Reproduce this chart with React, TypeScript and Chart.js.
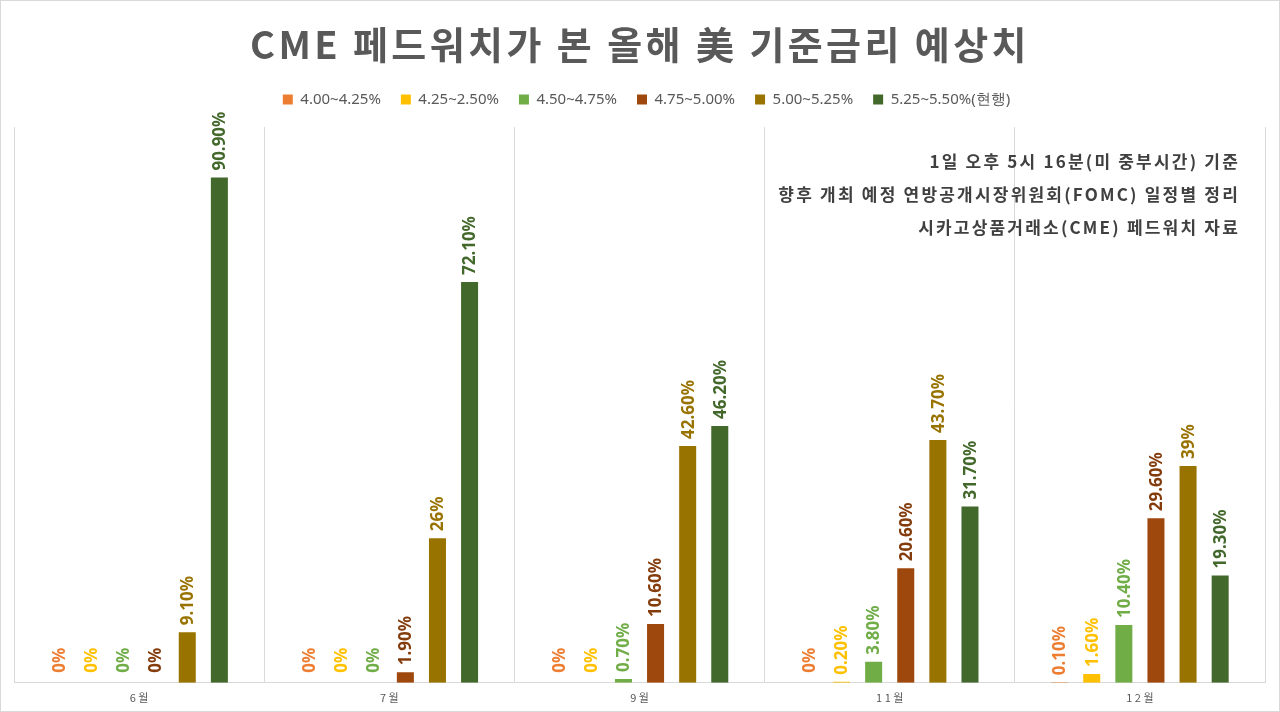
import React, { useEffect, useRef } from "react";
import { Chart, registerables } from "chart.js";

Chart.register(...registerables);

const categories = ["6 월", "7 월", "9 월", "1 1 월", "1 2 월"];
const seriesNames = ["4.00~4.25%", "4.25~2.50%", "4.50~4.75%", "4.75~5.00%", "5.00~5.25%", "5.25~5.50%(현행)"];
const r400_425 = [0, 0, 0, 0, 0.1];
const r425_450 = [0, 0, 0, 0.2, 1.6];
const r450_475 = [0, 0, 0.7, 3.8, 10.4];
const r475_500 = [0, 1.9, 10.6, 20.6, 29.6];
const r500_525 = [9.1, 26, 42.6, 43.7, 39];
const r525_550 = [90.9, 72.1, 46.2, 31.7, 19.3];
const seriesValues = [r400_425, r425_450, r450_475, r475_500, r500_525, r525_550];
const barColors = ["#ED7D31", "#FFC000", "#70AD47", "#9E480E", "#997300", "#43682B"];
const labelColors = ["#ED7D31", "#FFC000", "#70AD47", "#843C0C", "#997300", "#43682B"];
const titleText = "CME 페드워치가 본 올해 美 기준금리 예상치";
const noteLines = [
  "1일 오후 5시 16분(미 중부시간) 기준",
  "향후 개최 예정 연방공개시장위원회(FOMC) 일정별 정리",
  "시카고상품거래소(CME) 페드워치 자료",
];

const fmt = (v: number) => (Number.isInteger(v) ? `${v}%` : `${v.toFixed(2)}%`);

const KR = '"Noto Sans CJK KR", "Noto Sans", sans-serif';

const decoPlugin = {
  id: "deco",
  afterLayout(chart: any) {
    if (chart.legend) {
      chart.legend.left += 7;
      chart.legend.right += 7;
    }
  },
  beforeDraw(chart: any) {
    const ctx = chart.ctx;
    ctx.save();
    ctx.fillStyle = "#ffffff";
    ctx.fillRect(0, 0, chart.width, chart.height);
    ctx.strokeStyle = "#D9D9D9";
    ctx.lineWidth = 1;
    ctx.strokeRect(0.5, 0.5, chart.width - 1, chart.height - 1);
    ctx.restore();
  },
  afterDatasetsDraw(chart: any) {
    const ctx = chart.ctx;
    chart.data.datasets.forEach((ds: any, i: number) => {
      const meta = chart.getDatasetMeta(i);
      meta.data.forEach((bar: any, j: number) => {
        const v = ds.data[j];
        ctx.save();
        ctx.translate(bar.x, bar.y - (v === 0 ? 10 : 7));
        ctx.rotate(-Math.PI / 2);
        ctx.textAlign = "left";
        ctx.textBaseline = "middle";
        ctx.font = 'bold 17px "Noto Sans", sans-serif';
        ctx.fillStyle = labelColors[i];
        ctx.fillText(fmt(v), 0, 1);
        ctx.restore();
      });
    });
  },
  afterDraw(chart: any) {
    const ctx = chart.ctx;
    ctx.save();
    ctx.font = `bold 38px ${KR}`;
    (ctx as any).letterSpacing = "3.4px";
    ctx.fillStyle = "#595959";
    ctx.textAlign = "center";
    ctx.textBaseline = "middle";
    ctx.fillText(titleText, 640, 45);
    ctx.restore();

    ctx.save();
    ctx.font = `bold 17px ${KR}`;
    (ctx as any).letterSpacing = "2.2px";
    ctx.fillStyle = "#404040";
    ctx.textAlign = "right";
    ctx.textBaseline = "middle";
    const ys = [162, 195, 228];
    noteLines.forEach((t, k) => ctx.fillText(t, 1240, ys[k]));
    ctx.restore();
  },
};

export default function App() {
  const ref = useRef<HTMLCanvasElement | null>(null);
  useEffect(() => {
    document.body.style.margin = "0";
    const chart = new Chart(ref.current as HTMLCanvasElement, {
      type: "bar",
      data: {
        labels: categories,
        datasets: seriesNames.map((name, i) => ({
          label: name,
          data: seriesValues[i],
          backgroundColor: barColors[i],
          borderWidth: 0,
          categoryPercentage: 0.77,
          barPercentage: 0.53,
        })),
      },
      options: {
        responsive: true,
        maintainAspectRatio: false,
        animation: false,
        layout: { padding: { left: 14, right: 15, top: 72, bottom: 0 } },
        plugins: {
          title: { display: false },
          legend: {
            display: true,
            position: "top",
            labels: {
              boxWidth: 10,
              boxHeight: 10,
              color: "#595959",
              font: { family: '"Noto Sans", sans-serif', size: 15 },
              padding: 20,
            },
          },
          tooltip: { enabled: false },
        },
        scales: {
          x: {
            grid: { color: "#D9D9D9", drawTicks: false, offset: true },
            border: { color: "#D9D9D9" },
            ticks: { color: "#595959", font: { family: KR, size: 11 }, padding: 8 },
          },
          xTop: {
            type: "category",
            position: "top",
            display: true,
            grid: { display: false },
            border: { display: false },
            ticks: { display: false },
            afterFit: (scale: any) => {
              scale.height = 10;
            },
          },
          y: {
            display: false,
            min: 0,
            max: 100,
          },
        },
      },
      plugins: [decoPlugin],
    });
    return () => chart.destroy();
  }, []);
  return (
    <div style={{ position: "absolute", left: 0, top: 0, width: 1280, height: 712 }}>
      <canvas ref={ref} />
    </div>
  );
}
